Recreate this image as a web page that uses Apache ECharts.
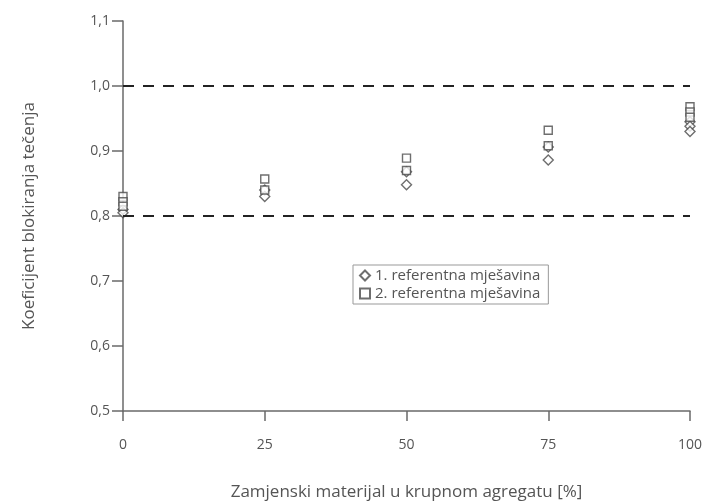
<!DOCTYPE html>
<html><head><meta charset="utf-8">
<script src="https://cdn.jsdelivr.net/npm/echarts@6/dist/echarts.min.js"></script>
<style>html,body{margin:0;padding:0;background:#fff}#c{width:708px;height:504px}</style>
</head><body><div id="c"></div>
<script>
const replacement = [0, 25, 50, 75, 100];
const mix1Values = [[0.810, 0.805], [0.840, 0.830], [0.868, 0.848], [0.906, 0.886], [0.945, 0.938, 0.930]];
const mix2Values = [[0.830, 0.822, 0.815], [0.857, 0.840], [0.889, 0.870], [0.932, 0.908], [0.968, 0.960, 0.952]];
const limitLines = [1.0, 0.8];
const yTicks = ['0,5','0,6','0,7','0,8','0,9','1,0','1,1'];
const seriesNames = ['1. referentna mješavina', '2. referentna mješavina'];

function pts(vals){ const out=[]; vals.forEach((arr,i)=>arr.forEach(v=>out.push([replacement[i], v]))); return out; }
const grey = '#6a6a6a';
const font = 'Open Sans';
const chart = echarts.init(document.getElementById('c'));
chart.setOption({
  animation:false,
  textStyle:{fontFamily:font},
  grid:{left:123, right:18, top:21, bottom:93, containLabel:false, outerBoundsMode:'none'},
  legend:{
    orient:'vertical', left:353, top:265, padding:[3,8,3,6], itemGap:3,
    borderColor:'#999', borderWidth:1, backgroundColor:'#fff',
    itemWidth:10, itemHeight:10,
    textStyle:{fontFamily:font, fontSize:15, color:'#555'},
    data:[{name:seriesNames[0], icon:'diamond'},{name:seriesNames[1], icon:'rect'}]
  },
  xAxis:{
    type:'value', min:0, max:100, interval:25,
    name:'Zamjenski materijal u krupnom agregatu [%]', nameLocation:'middle', nameGap:73,
    nameTextStyle:{fontSize:17, color:'#555', fontFamily:font},
    axisLine:{lineStyle:{color:grey, width:1.5}},
    axisTick:{show:true, length:10, lineStyle:{color:grey, width:1.5}},
    axisLabel:{color:'#555', fontSize:14, margin:27, formatter:v=>String(v)},
    splitLine:{show:false}
  },
  yAxis:{
    type:'value', min:0.5, max:1.1, interval:0.1,
    name:'Koeficijent blokiranja tečenja', nameLocation:'middle', nameGap:85,
    nameTextStyle:{fontSize:17, color:'#555', fontFamily:font},
    axisLine:{show:true, lineStyle:{color:grey, width:1.5}},
    axisTick:{show:true, length:11, lineStyle:{color:grey, width:1.5}},
    axisLabel:{color:'#555', fontSize:14, margin:13, formatter:(v)=>yTicks[Math.round((v-0.5)*10)]},
    splitLine:{show:false}
  },
  series:[
    {name:seriesNames[0], type:'scatter', symbol:'diamond', symbolSize:[10,10], z:3,
     itemStyle:{color:'#fff', borderColor:'#4a4a4a', borderWidth:1.4},
     data:pts(mix1Values),
     markLine:{silent:true, symbol:'none', label:{show:false},
       lineStyle:{color:'#222', type:[11,9], width:2},
       data:limitLines.map(v=>({yAxis:v}))}
    },
    {name:seriesNames[1], type:'scatter', symbol:'rect', symbolSize:[8,8], z:4,
     itemStyle:{color:'#fff', borderColor:'#4a4a4a', borderWidth:1.4},
     data:pts(mix2Values)}
  ]
});
</script></body></html>
